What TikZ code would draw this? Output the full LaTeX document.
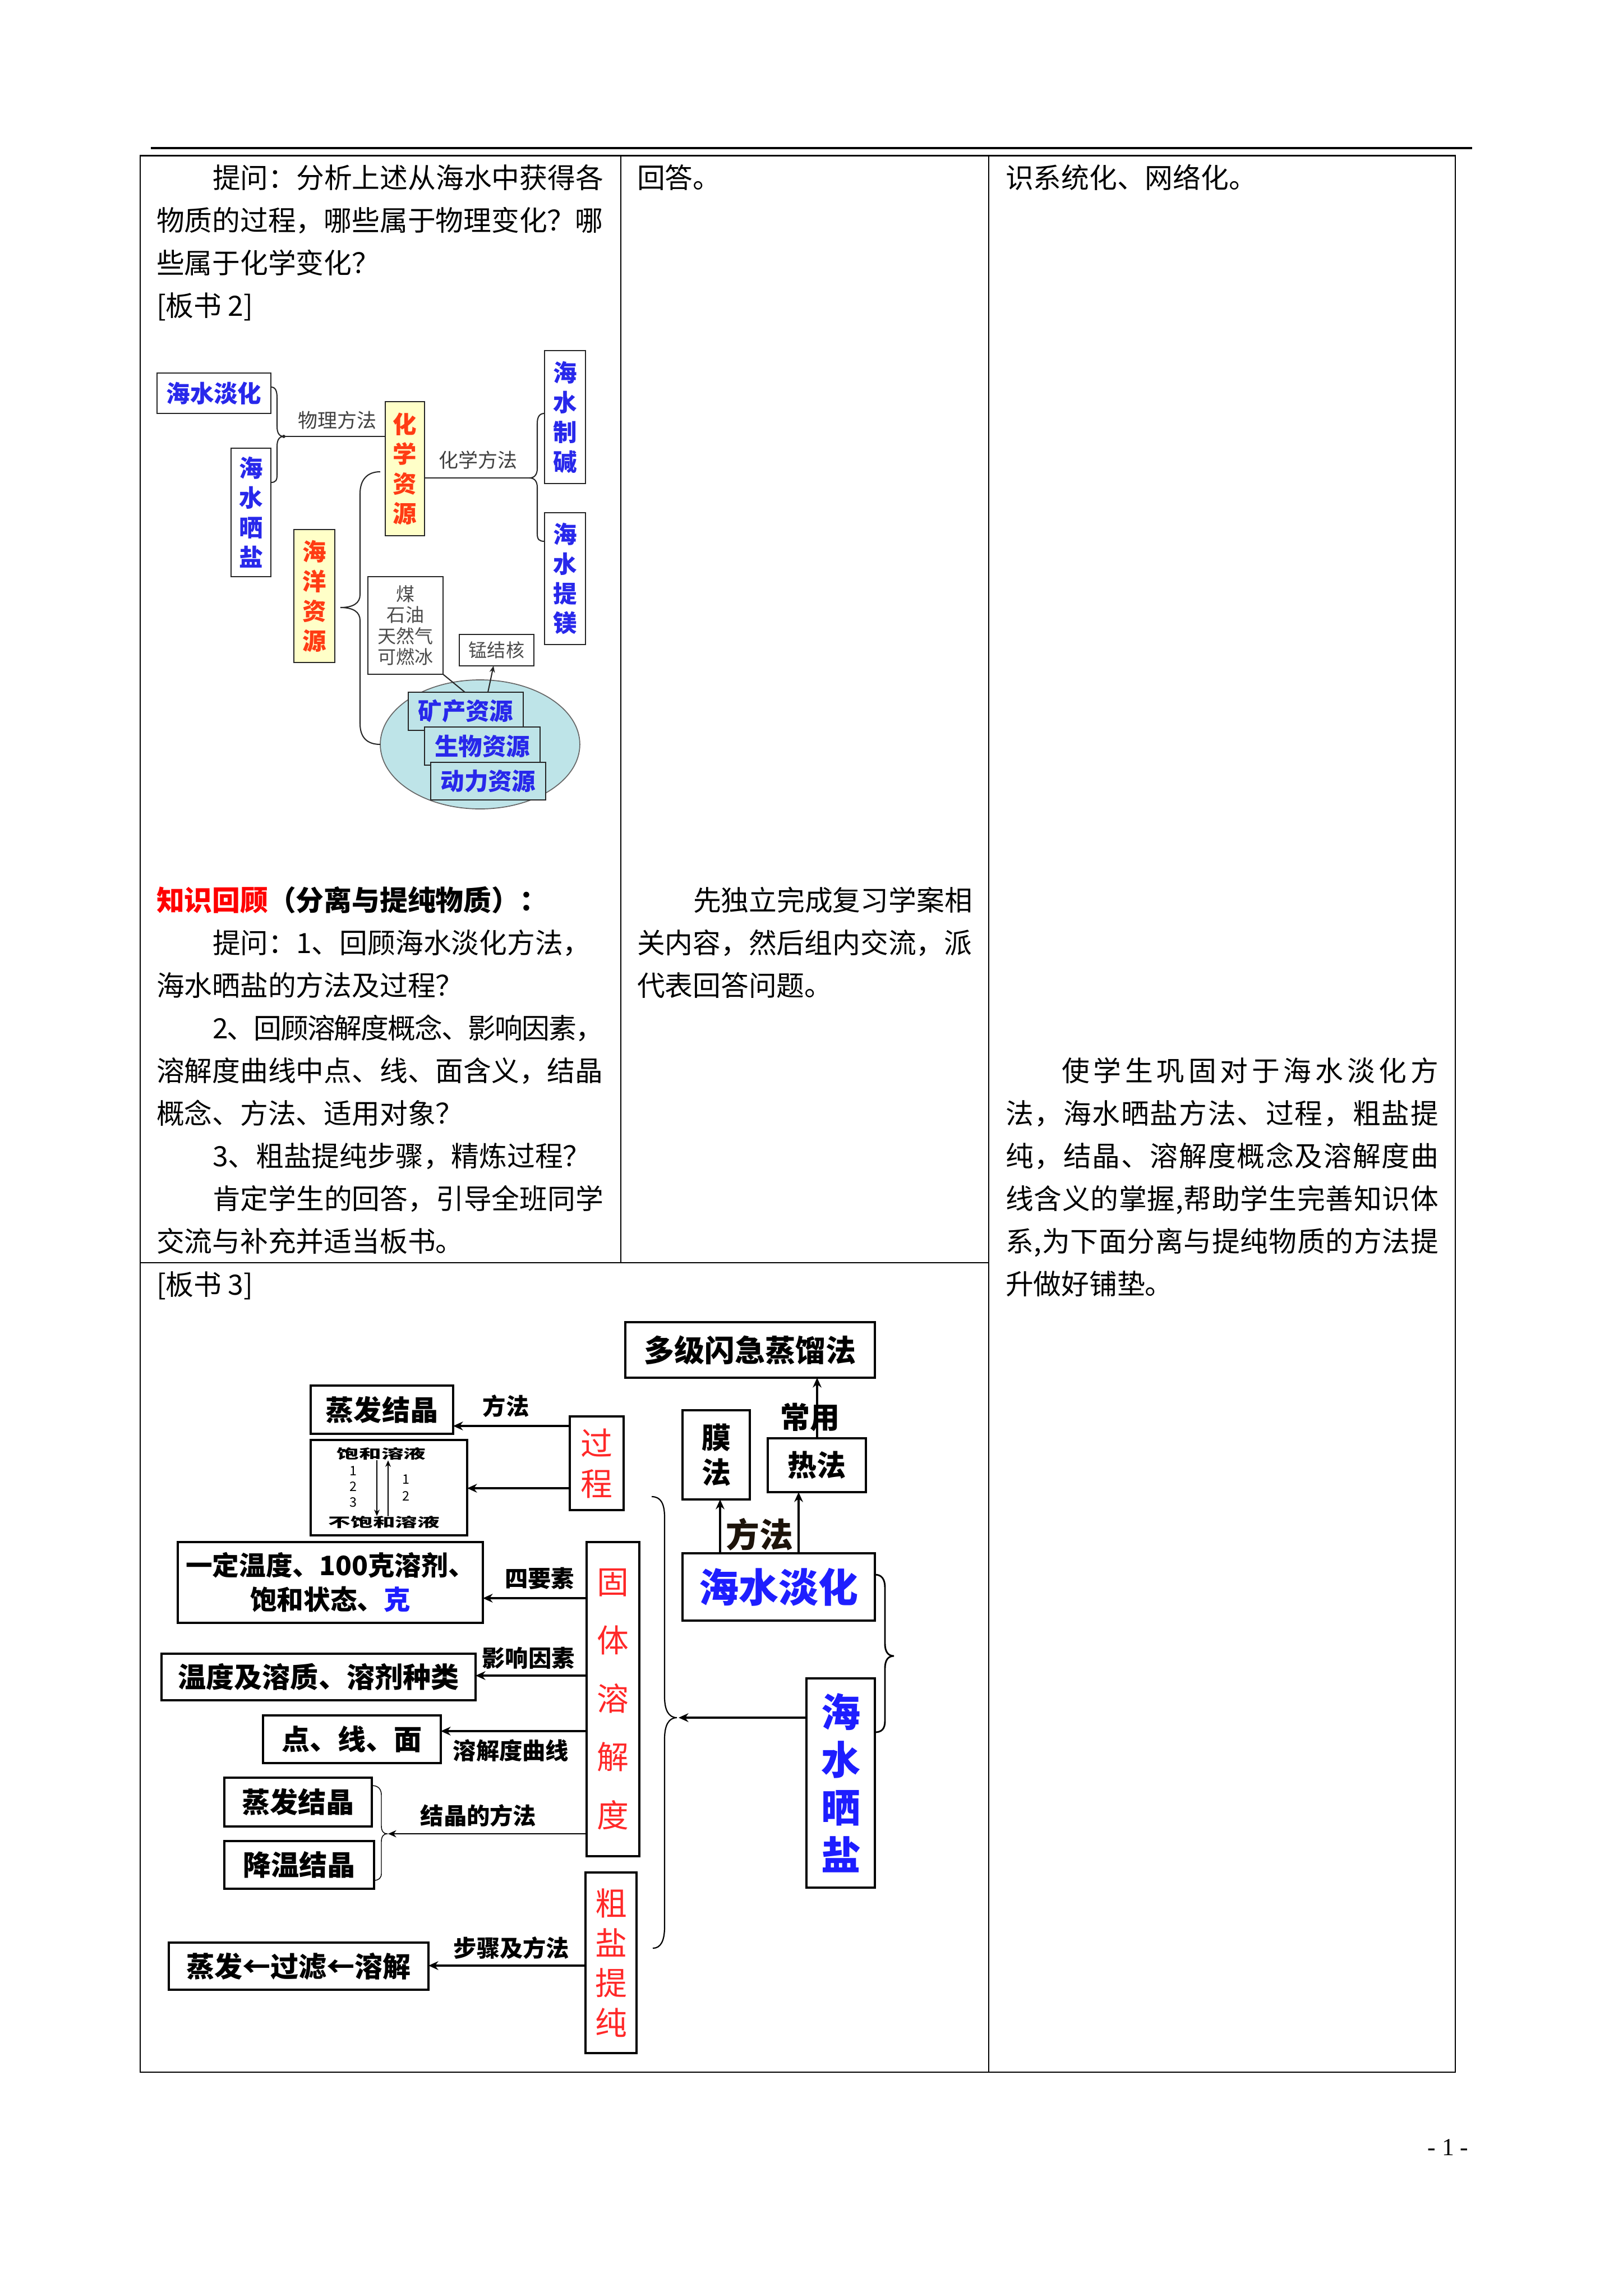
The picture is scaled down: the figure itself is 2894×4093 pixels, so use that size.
\documentclass[tikz,border=0pt]{standalone}
\usepackage{fontspec}
\setmainfont{Noto Sans CJK SC}
\newfontfamily\timesf{Liberation Serif}
\usepackage{graphicx}
\usetikzlibrary{arrows.meta}
\newdimen\pxu \pxu=0.2057pt
\def\sprA#1#2\sprEnd{#1\ifx\relax#2\relax\else\hskip0pt plus1fil minus1fil\relax\sprA#2\sprEnd\fi}
\newcommand\jl[2]{\hbox to #1\pxu{\sprA#2\sprEnd}}
\newcommand\bx[7]{\node[#6,minimum width={(#4-#2)*0.2057pt},minimum height={(#5-#3)*0.2057pt}] (#1) at ({(#2+#4)/2},{(#3+#5)/2}) {#7};}
\definecolor{d1blue}{RGB}{40,40,235}
\definecolor{d1red}{RGB}{255,60,20}
\definecolor{d1yellow}{RGB}{255,255,200}
\definecolor{d1cyan}{RGB}{190,228,232}
\definecolor{d2red}{RGB}{255,40,40}
\definecolor{d2blue}{RGB}{30,30,255}
\tikzset{
  body/.style={anchor=base west, font=\fontsize{10.24pt}{15.6pt}\selectfont},
  d1box/.style={draw=black!85, line width=0.42pt, align=center, font=\bfseries\fontsize{8.74pt}{10.9pt}\selectfont},
  d1yel/.style={d1box, fill=d1yellow, text=d1red},
  d1sm/.style={draw=black!85, line width=0.42pt, align=center, text=black!70, font=\fontsize{6.8pt}{7.7pt}\selectfont},
  d1lab/.style={text=black!75, font=\fontsize{7.2pt}{8pt}\selectfont},
  d1ln/.style={line width=0.42pt, draw=black!85},
  d2box/.style={draw=black, line width=0.85pt, align=center, font=\bfseries\fontsize{10.3pt}{12pt}\selectfont},
  d2lab/.style={font=\bfseries\fontsize{8.5pt}{9pt}\selectfont},
  arrT/.style={line width=0.8pt, -{Stealth[length=3.6pt,width=3.2pt]}},
  arrt/.style={line width=0.45pt, -{Stealth[length=3pt,width=2.6pt]}},
  brc/.style={line width=0.45pt},
}
\begin{document}
\begin{tikzpicture}[x=0.2057pt, y=-0.2057pt, every node/.style={inner sep=0pt, outer sep=0pt}]
\fill[white] (0,0) rectangle (2894,4093);
\useasboundingbox (0,0) rectangle (2894,4093);

% ---------- table ----------
\draw[line width=0.62pt] (269,264) -- (2625,264);
\draw[line width=0.54pt] (250,277.5) rectangle (2595,3694);
\draw[line width=0.3pt] (1107,277.5) -- (1107,2251);
\draw[line width=0.3pt] (1763,277.5) -- (1763,3694);
\draw[line width=0.54pt] (250,2251) -- (1763,2251);

% ---------- column 1 text ----------
\node[body] (a1) at (379,335) {提问：分析上述从海水中获得各};
\node[body] (a2) at (279,411) {物质的过程，哪些属于物理变化？哪};
\node[body] (a3) at (279,487) {些属于化学变化？};
\node[body] (a4) at (279,563) {[板书 2]};
\node[body] (b1) at (279,1623) {\bfseries\textcolor{red}{知识回顾}（分离与提纯物质）：};
\node[body] (b2) at (379,1699) {提问：1、回顾海水淡化方法，};
\node[body] (b3) at (279,1775) {海水晒盐的方法及过程？};
\node[body] (b4) at (379,1851) {\jl{697}{2、回顾溶解度概念、影响因素，}};
\node[body] (b5) at (279,1927) {溶解度曲线中点、线、面含义，结晶};
\node[body] (b6) at (279,2003) {概念、方法、适用对象？};
\node[body] (b7) at (379,2079) {3、粗盐提纯步骤，精炼过程？};
\node[body] (b8) at (379,2155) {肯定学生的回答，引导全班同学};
\node[body] (b9) at (279,2231) {交流与补充并适当板书。};
\node[body] (c1) at (279,2308) {[板书 3]};

% ---------- column 2 text ----------
\node[body] (m1) at (1136,335) {回答。};
\node[body] (m2) at (1236,1623) {先独立完成复习学案相};
\node[body] (m3) at (1136,1699) {关内容，然后组内交流，派};
\node[body] (m4) at (1136,1775) {代表回答问题。};

% ---------- column 3 text ----------
\node[body] (r1) at (1793,335) {识系统化、网络化。};
\node[body] (r2) at (1893,1927) {\jl{672}{使学生巩固对于海水淡化方}};
\node[body] (r3) at (1793,2003) {\jl{772}{法，海水晒盐方法、过程，粗盐提}};
\node[body] (r4) at (1793,2079) {\jl{772}{纯，结晶、溶解度概念及溶解度曲}};
\node[body] (r5) at (1793,2155) {\jl{772}{线含义的掌握,帮助学生完善知识体}};
\node[body] (r6) at (1793,2231) {\jl{772}{系,为下面分离与提纯物质的方法提}};
\node[body] (r7) at (1793,2307) {升做好铺垫。};

% ---------- page number ----------
\node[font=\timesf\fontsize{9pt}{10pt}\selectfont] (pg) at (2582,3828) {- 1 -};

% ========== diagram 1 (板书2) ==========
\filldraw[fill=d1cyan, draw=black!60, line width=0.35pt] (856,1327) ellipse [x radius=36.6pt, y radius=23.66pt];
\bx{d1a}{280}{665}{483}{737}{d1box,text=d1blue}{海水淡化}
\bx{d1b}{412}{799}{483}{1028}{d1box,text=d1blue}{海\\水\\晒\\盐}
\bx{d1c}{687}{716}{757}{955}{d1yel}{化\\学\\资\\源}
\bx{d1d}{971}{625}{1044}{862}{d1box,text=d1blue}{海\\水\\制\\碱}
\bx{d1e}{971}{914}{1044}{1149}{d1box,text=d1blue}{海\\水\\提\\镁}
\bx{d1f}{524}{944}{597}{1181}{d1yel}{海\\洋\\资\\源}
\bx{d1g}{656}{1028}{790}{1202}{d1sm}{煤\\石油\\天然气\\可燃冰}
\bx{d1h}{819}{1131}{952}{1187}{d1sm}{锰结核}
\bx{d1i}{728}{1234}{933}{1302}{d1box,fill=d1cyan,text=d1blue}{矿产资源}
\bx{d1j}{757}{1296}{963}{1364}{d1box,fill=d1cyan,text=d1blue}{生物资源}
\bx{d1k}{768}{1359}{973}{1426}{d1box,fill=d1cyan,text=d1blue}{动力资源}
\node[d1lab] (d1l1) at (601,749) {物理方法};
\node[d1lab] (d1l2) at (852,820) {化学方法};

% brace joining 海水淡化 / 海水晒盐
\draw[d1ln] (d1a.east |- 0,690) .. controls (492,690) and (494,698) .. (494,710) -- (494,760)
  .. controls (494,772) and (498,778) .. (506,778) .. controls (498,778) and (494,784) .. (494,796)
  -- (494,846) .. controls (494,856) and (492,860) .. (d1b.east |- 0,860);
\coordinate (d1t1) at (506,778);
\draw[d1ln] (d1t1) -- (d1c.west |- d1t1);
\fill[black!85] (d1t1) circle (0.6pt);
% brace joining 海水制碱 / 海水提镁
\coordinate (d1t2) at (944,852);
\draw[d1ln] (d1c.east |- d1t2) -- (d1t2);
\draw[d1ln] (d1d.west |- 0,737) .. controls (962,737) and (958,743) .. (958,755) -- (958,835)
  .. controls (958,846) and (953,852) .. (d1t2) .. controls (953,852) and (958,858) .. (958,869)
  -- (958,952) .. controls (958,962) and (962,965) .. (d1e.west |- 0,965);
% brace of 海洋资源
\coordinate (d1t3) at (607,1083);
\draw[d1ln] (678,841) .. controls (655,841) and (642,855) .. (642,880) -- (642,1060)
  .. controls (642,1075) and (630,1083) .. (d1t3) .. controls (630,1083) and (642,1091) .. (642,1106)
  -- (642,1290) .. controls (642,1315) and (655,1327) .. (678,1327);
% links of 矿产资源
\draw[d1ln] (d1g.south east) -- (d1i.north -| 829,0);
\draw[d1ln, -{Stealth[length=2.4pt,width=2pt]}] (d1i.north -| 870,0) -- (d1h.south -| 880,0);

% ========== diagram 2 (板书3) ==========
\bx{e1}{1115}{2357}{1560}{2456}{d2box,font=\bfseries\fontsize{11.1pt}{13pt}\selectfont}{多级闪急蒸馏法}
\bx{e2}{554}{2470}{808}{2556}{d2box}{蒸发结晶}
\bx{e3}{1016}{2525}{1112}{2692}{d2box,text=d2red,font=\fontsize{11.7pt}{14.8pt}\selectfont}{过\\程}
\bx{e4}{554}{2567}{833}{2737}{d2box}{}
\bx{e5}{317}{2749}{861}{2893}{d2box,font=\bfseries\fontsize{9.8pt}{12.5pt}\selectfont}{一定温度、100克溶剂、\\饱和状态、\textcolor{d2blue}{克}}
\bx{e6}{1046}{2749}{1140}{3309}{d2box,text=d2red,font=\fontsize{11.7pt}{21.4pt}\selectfont}{固\\体\\溶\\解\\度}
\bx{e7}{288}{2948}{848}{3031}{d2box}{温度及溶质、溶剂种类}
\bx{e8}{469}{3058}{786}{3143}{d2box}{点、线、面}
\bx{e9}{400}{3169}{663}{3256}{d2box}{蒸发结晶}
\bx{e10}{400}{3282}{667}{3367}{d2box}{降温结晶}
\bx{e11}{1044}{3338}{1135}{3660}{d2box,text=d2red,font=\fontsize{11.7pt}{14.6pt}\selectfont}{粗\\盐\\提\\纯}
\bx{e12}{301}{3463}{764}{3547}{d2box}{蒸发←过滤←溶解}
\bx{e13}{1217}{2514}{1337}{2673}{d2box,font=\bfseries\fontsize{10.7pt}{12.8pt}\selectfont}{膜\\法}
\bx{e14}{1369}{2564}{1544}{2660}{d2box,font=\bfseries\fontsize{10.7pt}{12.8pt}\selectfont}{热法}
\bx{e15}{1217}{2769}{1560}{2889}{d2box,text=d2blue,font=\bfseries\fontsize{14.6pt}{17pt}\selectfont}{海水淡化}
\bx{e16}{1438}{2992}{1560}{3365}{d2box,text=d2blue,font=\bfseries\fontsize{14.4pt}{17.5pt}\selectfont}{海\\水\\晒\\盐}

% contents of the saturated / unsaturated box
\node (s1) at (680,2592) {\scalebox{1.7}[1]{\bfseries\fontsize{4.8pt}{5pt}\selectfont 饱和溶液}};
\node (s2) at (685,2714) {\scalebox{1.7}[1]{\bfseries\fontsize{4.8pt}{5pt}\selectfont 不饱和溶液}};
\draw[line width=0.5pt, -{Stealth[length=2.4pt,width=2pt]}] (s1.south -| 672,0) -- (s2.north -| 672,0);
\draw[line width=0.5pt, -{Stealth[length=2.4pt,width=2pt]}] (s2.north -| 692,0) -- (s1.south -| 692,0);
\node[align=center, font=\fontsize{4.8pt}{5.8pt}\selectfont] (n1) at (630,2650) {1\\2\\3};
\node[align=center, font=\fontsize{4.8pt}{6.2pt}\selectfont] (n2) at (724,2652) {1\\2};

% labels
\node[d2lab] (l1) at (902,2507) {方法};
\node[d2lab] (l2) at (962,2814) {四要素};
\node[d2lab] (l3) at (942,2956) {影响因素};
\node[d2lab] (l4) at (911,3121) {溶解度曲线};
\node[d2lab] (l5) at (853,3237) {结晶的方法};
\node[d2lab] (l6) at (912,3473) {步骤及方法};
\node[d2lab, font=\bfseries\fontsize{10.9pt}{12pt}\selectfont] (l7) at (1444,2526) {常用};
\node[d2lab, font=\bfseries\fontsize{12.3pt}{13pt}\selectfont, text=black!85!brown] (l8) at (1354,2735) {方法};

% arrows
\draw[arrT] (e3.west |- 0,2542) -- (e2.east |- 0,2542);
\draw[arrT] (e3.west |- 0,2653) -- (e4.east |- 0,2653);
\draw[arrT] (e6.west |- 0,2849) -- (e5.east |- 0,2849);
\draw[arrT] (e6.west |- 0,2987) -- (e7.east |- 0,2987);
\draw[arrT] (e6.west |- 0,3086) -- (e8.east |- 0,3086);
\coordinate (bt1) at (692,3269);
\draw[arrt] (e6.west |- bt1) -- (bt1);
\draw[arrT] (e11.west |- 0,3504) -- (e12.east |- 0,3504);
\coordinate (bt2) at (1210,3062);
\draw[arrT] (e16.west |- bt2) -- (bt2);
\draw[arrT] (e15.north -| 1284,0) -- (e13.south -| 1284,0);
\draw[arrT] (e15.north -| 1424,0) -- (e14.south -| 1424,0);
\draw[arrT] (e14.north -| 1457,0) -- (e1.south -| 1457,0);

% braces
\draw[brc] (1162,2668) .. controls (1178,2668) and (1185,2680) .. (1185,2705) -- (1185,3025)
  .. controls (1185,3048) and (1192,3062) .. (1207,3062) .. controls (1192,3062) and (1185,3076) .. (1185,3100)
  -- (1185,3435) .. controls (1185,3460) and (1178,3473) .. (1164,3473);
\draw[brc, line width=0.6pt] (e15.east |- 0,2807) .. controls (1572,2807) and (1578,2815) .. (1578,2830) -- (1578,2930)
  .. controls (1578,2945) and (1584,2952) .. (1594,2952) .. controls (1584,2952) and (1578,2959) .. (1578,2974)
  -- (1578,3068) .. controls (1578,3082) and (1572,3088) .. (e16.east |- 0,3088);
\draw[brc, line width=0.3pt] (e9.east |- 0,3183) .. controls (675,3183) and (680,3190) .. (680,3200) -- (680,3255)
  .. controls (680,3264) and (684,3269) .. (690,3269) .. controls (684,3269) and (680,3274) .. (680,3283)
  -- (680,3340) .. controls (680,3348) and (675,3352) .. (e10.east |- 0,3352);
\end{tikzpicture}
\end{document}
